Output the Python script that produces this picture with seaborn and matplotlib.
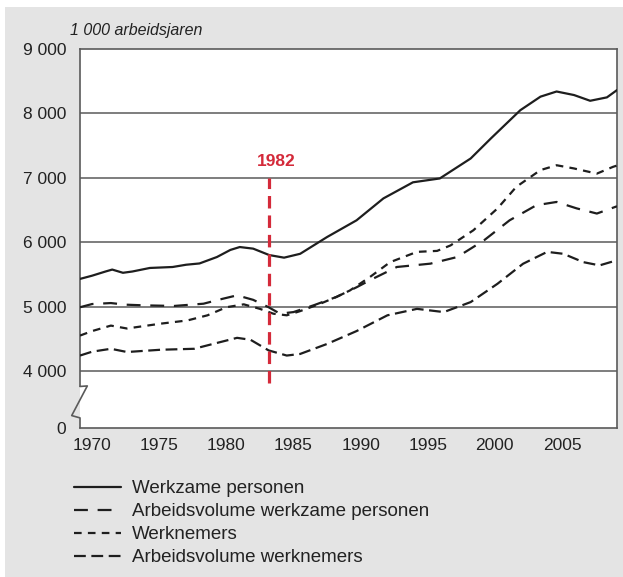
import matplotlib
matplotlib.use('Agg')
import pandas as pd
import matplotlib.pyplot as plt
from matplotlib.lines import Line2D
from matplotlib.patches import Rectangle
import seaborn as sns

# values, in 1 000 arbeidsjaren
# (x positions as they sit against the printed year ticks)
yrs_werkzaam = [1969.1, 1970, 1971, 1971.5, 1972.3, 1973, 1974.3, 1976, 1977, 1978, 1979.3,
                1980.3, 1981, 1982, 1983.2, 1984.3, 1985.5, 1987.5, 1989.7, 1991.7, 1993.9,
                1995.9, 1998.2, 1999.7, 2001.9, 2003.4, 2004.6, 2005.9, 2007.1, 2008.35, 2009.1]
werkzaam = [5430, 5480, 5545, 5575, 5525, 5545, 5600, 5615, 5650, 5670, 5770,
            5880, 5925, 5900, 5800, 5760, 5820, 6080, 6340, 6680, 6930,
            6990, 7300, 7610, 8050, 8260, 8340, 8285, 8196, 8249, 8362]

yrs_av_werkzaam = [1969.1, 1970, 1971.4, 1972.5, 1973.8, 1976.1, 1978.3, 1979.5, 1980.8, 1982,
                   1983.15, 1984, 1985, 1986.5, 1988.2, 1989.7, 1990.7, 1992.7, 1995.2, 1997.2,
                   1999.2, 2001.1, 2003.1, 2004.6, 2006.1, 2007.6, 2009.1]
av_werkzaam = [4990, 5040, 5055, 5030, 5020, 5010, 5045, 5110, 5175, 5105,
               4990, 4890, 4915, 5020, 5150, 5300, 5410, 5615, 5667, 5770,
               6030, 6340, 6575, 6625, 6525, 6445, 6558]

yrs_werknemers = [1969.1, 1970, 1971.4, 1972.6, 1975.1, 1977.1, 1978.6, 1980, 1981.3, 1982.5,
                  1983.5, 1984.5, 1985.5, 1987, 1988.2, 1989.2, 1990.7, 1992.2, 1994.2, 1995.7,
                  1996.7, 1998.4, 2000.2, 2001.6, 2003.4, 2004.6, 2005.9, 2007.6, 2008.8, 2009.1]
werknemers = [4550, 4620, 4705, 4660, 4735, 4785, 4865, 4990, 5035, 4965,
              4890, 4865, 4930, 5045, 5150, 5250, 5460, 5690, 5850, 5865,
              5950, 6185, 6525, 6860, 7120, 7195, 7145, 7065, 7170, 7190]

yrs_av_werknemers = [1969.1, 1970, 1971.4, 1972.6, 1975.1, 1977.6, 1979, 1980.8, 1981.8, 1983.15,
                     1984.5, 1985.5, 1987.5, 1989.7, 1992, 1994.2, 1996.2, 1998.2, 2000.2, 2002.1,
                     2003.9, 2005.1, 2006.6, 2007.8, 2009.1]
av_werknemers = [4240, 4300, 4345, 4295, 4330, 4345, 4420, 4515, 4485, 4320,
                 4240, 4265, 4420, 4620, 4865, 4965, 4915, 5070, 5355, 5665,
                 5850, 5820, 5690, 5640, 5720]

series_names = ['Werkzame personen', 'Arbeidsvolume werkzame personen',
                'Werknemers', 'Arbeidsvolume werknemers']
x_ticks = [1970, 1975, 1980, 1985, 1990, 1995, 2000, 2005]
y_ticks = [4000, 5000, 6000, 7000, 8000, 9000]
y_tick_labels = ['4 000', '5 000', '6 000', '7 000', '8 000', '9 000']
unit_label = '1 000 arbeidsjaren'
marker_label = '1982'

frames = []
for name, xs, ys in zip(series_names,
                        [yrs_werkzaam, yrs_av_werkzaam, yrs_werknemers, yrs_av_werknemers],
                        [werkzaam, av_werkzaam, werknemers, av_werknemers]):
    frames.append(pd.DataFrame({'jaar': xs, 'waarde': ys, 'reeks': name}))
df = pd.concat(frames, ignore_index=True)

sns.set_theme(style='white')
plt.rcParams['font.family'] = ['Liberation Sans', 'DejaVu Sans']
plt.rcParams['lines.scale_dashes'] = False

line_col = '#1e1e1e'
frame_col = '#5a5a5a'
dash_styles = {
    series_names[0]: '',
    series_names[1]: (10, 7),
    series_names[2]: (5.5, 4.5),
    series_names[3]: (8.5, 4),
}

fig = plt.figure(figsize=(6.23, 5.77), dpi=100)
fig.patch.set_facecolor('white')
fig.patches.append(Rectangle((5 / 623, 0), 1, 1 - 7 / 577, transform=fig.transFigure,
                             facecolor='#e4e4e4', edgecolor='none', zorder=-10))

ax = fig.add_axes([80 / 623, 1 - 428 / 577, 537 / 623, (428 - 49) / 577])
ax.set_facecolor('white')

y_bottom = 3115  # where the broken axis shows "0"
ax.set_xlim(1969.1, 2009.1)
ax.set_ylim(y_bottom, 9000)

for v in y_ticks[:-1]:
    ax.axhline(v, color=frame_col, lw=1.1, zorder=1)

sns.lineplot(data=df, x='jaar', y='waarde', style='reeks', dashes=dash_styles,
             color=line_col, lw=1.6, estimator=None, sort=True, legend=False, ax=ax, zorder=3)

# red marker line
ax.plot([1983.15, 1983.15], [3810, 7000], color='#d42a3a', lw=2.3,
        dashes=(9, 5), zorder=4)
ax.text(1983.7, 7250, marker_label, color='#d42a3a', fontsize=12.5, fontweight='bold',
        ha='center', va='center', zorder=5)

ax.set_xticks(x_ticks)
ax.set_xticklabels([str(t) for t in x_ticks], fontsize=12.5, color='#222222')
ax.set_yticks([y_bottom] + y_ticks)
ax.set_yticklabels(['0'] + y_tick_labels, fontsize=12.5, color='#222222')
ax.tick_params(axis='x', direction='out', length=4, width=1, color=frame_col, pad=3)
ax.tick_params(axis='y', length=0, pad=10)
ax.set_xlabel('')
ax.set_ylabel('')

for s in ['top', 'right', 'bottom', 'left']:
    ax.spines[s].set_visible(True)
    ax.spines[s].set_color(frame_col)
    ax.spines[s].set_linewidth(1.2)
ax.spines['left'].set_bounds(3760, 9000)

# axis break zigzag on the left spine
px = 1 / 537
brk_x = [0, 7.3 * px, -8.3 * px, 0, 0]
brk_y = [3760, 3768, 3308, 3272, y_bottom]
ax.plot(brk_x, brk_y, color=frame_col, lw=1.2, transform=ax.get_yaxis_transform(),
        clip_on=False, zorder=6)

fig.text(70 / 623, 1 - 31 / 577, unit_label, fontsize=11.5, style='italic',
         color='#222222', ha='left', va='center')

handles = [Line2D([], [], color=line_col, lw=1.6, dashes=dash_styles[n]) if dash_styles[n]
           else Line2D([], [], color=line_col, lw=1.6) for n in series_names]
fig.legend(handles, series_names, loc='upper left', bbox_to_anchor=(74 / 623, 1 - 480 / 577),
           frameon=False, fontsize=13.5, handlelength=2.5, handletextpad=0.6,
           labelspacing=0.32, borderpad=0, borderaxespad=0, labelcolor='#222222')

fig.savefig('out.png', dpi=100, facecolor=fig.get_facecolor())
